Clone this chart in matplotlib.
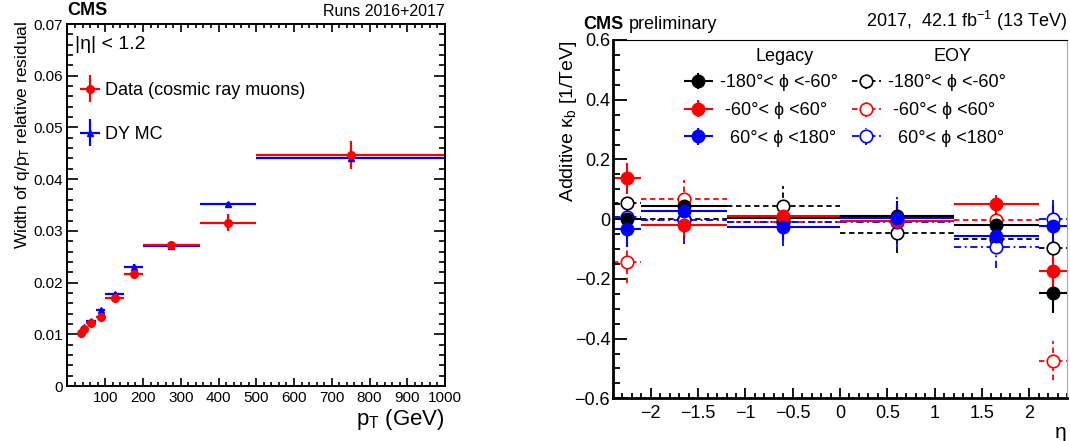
import matplotlib
matplotlib.use('Agg')
import matplotlib.pyplot as plt
import numpy as np
from matplotlib.ticker import MultipleLocator, FuncFormatter
from matplotlib.container import ErrorbarContainer
from matplotlib.legend_handler import HandlerErrorbar

plt.rcParams['font.family'] = ['Liberation Sans', 'DejaVu Sans']
plt.rcParams['mathtext.fontset'] = 'custom'
plt.rcParams['mathtext.rm'] = 'Liberation Sans'
plt.rcParams['mathtext.it'] = 'Liberation Sans:italic'
plt.rcParams['mathtext.bf'] = 'Liberation Sans:bold'
plt.rcParams['mathtext.sf'] = 'Liberation Sans'

# ---------------- Left panel data ----------------
pt_edges = [30, 40, 50, 75, 100, 150, 200, 350, 500, 1000]
data_width = [0.0102, 0.0110, 0.0122, 0.0134, 0.0170, 0.0217, 0.0272, 0.0316, 0.0447]
data_err = [0.0003, 0.0003, 0.0003, 0.0004, 0.0004, 0.0005, 0.0006, 0.0017, 0.0027]
mc_width = [0.0106, 0.0114, 0.0125, 0.0147, 0.0178, 0.0230, 0.0270, 0.0352, 0.0441]
mc_err = [0.0002, 0.0002, 0.0003, 0.0004, 0.0003, 0.0005, 0.0003, 0.0004, 0.0010]

# ---------------- Right panel data ----------------
eta_edges = [-2.4, -2.1, -1.2, 0.0, 1.2, 2.1, 2.4]
leg_neg = [0.000, 0.045, 0.004, 0.012, -0.019, -0.246]
leg_neg_err = [0.04, 0.04, 0.04, 0.05, 0.04, 0.068]
leg_mid = [0.137, -0.019, 0.011, -0.005, 0.051, -0.173]
leg_mid_err = [0.052, 0.04, 0.04, 0.05, 0.03, 0.07]
leg_pos = [-0.033, 0.027, -0.025, 0.003, -0.055, -0.023]
leg_pos_err = [0.06, 0.04, 0.045, 0.05, 0.05, 0.07]
eoy_neg = [0.053, 0.001, 0.045, -0.045, -0.067, -0.095]
eoy_neg_err = [0.03, 0.05, 0.065, 0.068, 0.05, 0.06]
eoy_mid = [-0.144, 0.067, -0.008, -0.006, -0.003, -0.474]
eoy_mid_err = [0.07, 0.065, 0.06, 0.065, 0.05, 0.066]
eoy_pos = [0.008, -0.003, -0.010, -0.010, -0.094, 0.000]
eoy_pos_err = [0.06, 0.08, 0.08, 0.085, 0.07, 0.064]

labels_phi = ['-180\u00b0< \u03d5 <-60\u00b0', ' -60\u00b0< \u03d5 <60\u00b0', '  60\u00b0< \u03d5 <180\u00b0']

W, H = 1070, 441
fig = plt.figure(figsize=(W / 100, H / 100), dpi=100)


def fax(l, r, t, b):
    return fig.add_axes([l / W, 1 - b / H, (r - l) / W, (b - t) / H])


def gfmt(v, pos):
    if abs(v) < 1e-9:
        return '0'
    return ('%g' % v).replace('-', '\u2212')


# ================= LEFT PANEL =================
ax = fax(67.5, 445, 24, 386)
pe = np.array(pt_edges, dtype=float)
pc = 0.5 * (pe[1:] + pe[:-1])
phw = 0.5 * (pe[1:] - pe[:-1])

eb_mc = ax.errorbar(pc, mc_width, xerr=phw, yerr=mc_err, fmt='^', color='#0000ff',
                    ms=5, lw=1.6, capsize=0, label='DY MC')
eb_data = ax.errorbar(pc, data_width, xerr=phw, yerr=data_err, fmt='o', color='#ff0000',
                      ms=5.5, lw=1.6, capsize=0, label='Data (cosmic ray muons)')

ax.set_xlim(0, 1000)
ax.set_ylim(0, 0.07)
ax.xaxis.set_major_locator(MultipleLocator(100))
ax.xaxis.set_minor_locator(MultipleLocator(20))
ax.yaxis.set_major_locator(MultipleLocator(0.01))
ax.yaxis.set_minor_locator(MultipleLocator(0.002))
ax.xaxis.set_major_formatter(FuncFormatter(lambda v, p: '' if abs(v) < 1e-9 else '%d' % v))
ax.yaxis.set_major_formatter(FuncFormatter(gfmt))
ax.tick_params(which='both', direction='in', top=True, right=True, labelsize=11, width=1.2)
ax.tick_params(axis='y', which='major', length=8, pad=3)
ax.tick_params(axis='y', which='minor', length=4.5)
ax.tick_params(axis='x', which='major', length=5.5, pad=3.5)
ax.tick_params(axis='x', which='minor', length=2.8)
for s in ax.spines.values():
    s.set_linewidth(1.4)

ax.set_xlabel(r'$\mathrm{p}_{\mathrm{T}}$ (GeV)', fontsize=16, loc='right')
ax.xaxis.set_label_coords(1.0, -0.058)
ax.set_ylabel(r'Width of q/$\mathrm{p}_{\mathrm{T}}$ relative residual', fontsize=12.5, loc='top')
ax.yaxis.set_label_coords(-0.095, 1.01)

ax.text(0.0, 1.015, 'CMS', transform=ax.transAxes, fontsize=13, fontweight='bold',
        ha='left', va='bottom')
ax.text(1.0, 1.015, 'Runs 2016+2017', transform=ax.transAxes, fontsize=11.5,
        ha='right', va='bottom')
ax.text(0.02, 0.942, '|\u03b7| < 1.2', transform=ax.transAxes, fontsize=14, ha='left', va='center')

lg = ax.legend([eb_data, eb_mc], ['Data (cosmic ray muons)', 'DY MC'], loc='upper left',
               bbox_to_anchor=(0.0, 0.875), frameon=False, fontsize=13, handlelength=1.1,
               handletextpad=0.3, labelspacing=1.5, borderaxespad=0.3,
               handler_map={ErrorbarContainer: HandlerErrorbar(xerr_size=0.55, yerr_size=0.75)})

# ================= RIGHT PANEL =================
ax2 = fax(613, 1067, 40, 398.3)
ee = np.array(eta_edges)
ec = 0.5 * (ee[1:] + ee[:-1])
ehw = 0.5 * (ee[1:] - ee[:-1])

eoy_styles = [('black', (0, (3, 2))), ('#ff0000', (0, (3, 2))), ('#0000ff', (0, (4, 2, 1, 2)))]
eoy_vals = [(eoy_neg, eoy_neg_err), (eoy_mid, eoy_mid_err), (eoy_pos, eoy_pos_err)]
leg_vals = [(leg_neg, leg_neg_err), (leg_mid, leg_mid_err), (leg_pos, leg_pos_err)]
leg_cols = ['black', '#ff0000', '#0000ff']

eoy_handles = []
for (c, ls), (v, e) in zip(eoy_styles, eoy_vals):
    eb = ax2.errorbar(ec, v, xerr=ehw, yerr=e, fmt='o', color=c, mfc='white', mec=c,
                      ms=9, mew=1.2, lw=1.3, capsize=0)
    for lc in eb[2]:
        lc.set_linestyle(ls)
    eoy_handles.append(eb)

leg_handles = []
for c, (v, e) in zip(leg_cols, leg_vals):
    eb = ax2.errorbar(ec, v, xerr=ehw, yerr=e, fmt='o', color=c, ms=9, lw=1.5, capsize=0)
    leg_handles.append(eb)

ax2.set_xlim(-2.4, 2.4)
ax2.set_ylim(-0.6, 0.6)
ax2.xaxis.set_major_locator(MultipleLocator(0.5))
ax2.xaxis.set_minor_locator(MultipleLocator(0.1))
ax2.yaxis.set_major_locator(MultipleLocator(0.2))
ax2.yaxis.set_minor_locator(MultipleLocator(0.05))
ax2.xaxis.set_major_formatter(FuncFormatter(gfmt))
ax2.yaxis.set_major_formatter(FuncFormatter(gfmt))
ax2.tick_params(which='both', direction='in', top=False, right=False, labelsize=13, width=1.3)
ax2.tick_params(axis='y', which='major', length=10, pad=2)
ax2.tick_params(axis='y', which='minor', length=5)
ax2.tick_params(axis='x', which='major', length=7.5, pad=5)
ax2.tick_params(axis='x', which='minor', length=3.5)
ax2.spines['left'].set_linewidth(2)
ax2.spines['bottom'].set_linewidth(2)
ax2.spines['top'].set_linewidth(0.8)
ax2.spines['right'].set_linewidth(0.8)
ax2.spines['right'].set_color('#aaaaaa')

ax2.set_xlabel('\u03b7', fontsize=15, loc='right')
ax2.xaxis.set_label_coords(1.0, -0.068)
ax2.set_ylabel(r'Additive $\mathrm{\kappa}_{\mathrm{b}}$ [1/TeV]', fontsize=14, loc='top')
ax2.yaxis.set_label_coords(-0.075, 1.0)

ax2.text(-0.066, 1.02, 'CMS', transform=ax2.transAxes, fontsize=13, fontweight='bold',
         ha='left', va='bottom')
ax2.text(0.035, 1.02, 'preliminary', transform=ax2.transAxes, fontsize=13,
         ha='left', va='bottom')
ax2.text(1.0, 1.02, r'2017,  42.1 fb$^{-1}$ (13 TeV)', transform=ax2.transAxes, fontsize=13,
         ha='right', va='bottom')

ax2.text(0.377, 0.955, 'Legacy', transform=ax2.transAxes, fontsize=13, ha='center', va='center')
ax2.text(0.748, 0.955, 'EOY', transform=ax2.transAxes, fontsize=13, ha='center', va='center')

hm = {ErrorbarContainer: HandlerErrorbar(xerr_size=0.8, yerr_size=0.45)}
l1 = ax2.legend(leg_handles, labels_phi, loc='upper left', bbox_to_anchor=(0.14, 0.925),
                frameon=False, fontsize=13, handlelength=1.6, handletextpad=0.4,
                labelspacing=0.6, borderaxespad=0.0, handler_map=hm)
ax2.add_artist(l1)
l2 = ax2.legend(eoy_handles, labels_phi, loc='upper left', bbox_to_anchor=(0.51, 0.925),
                frameon=False, fontsize=13, handlelength=1.6, handletextpad=0.4,
                labelspacing=0.6, borderaxespad=0.0, handler_map=hm)

fig.savefig('out.png', dpi=100)
